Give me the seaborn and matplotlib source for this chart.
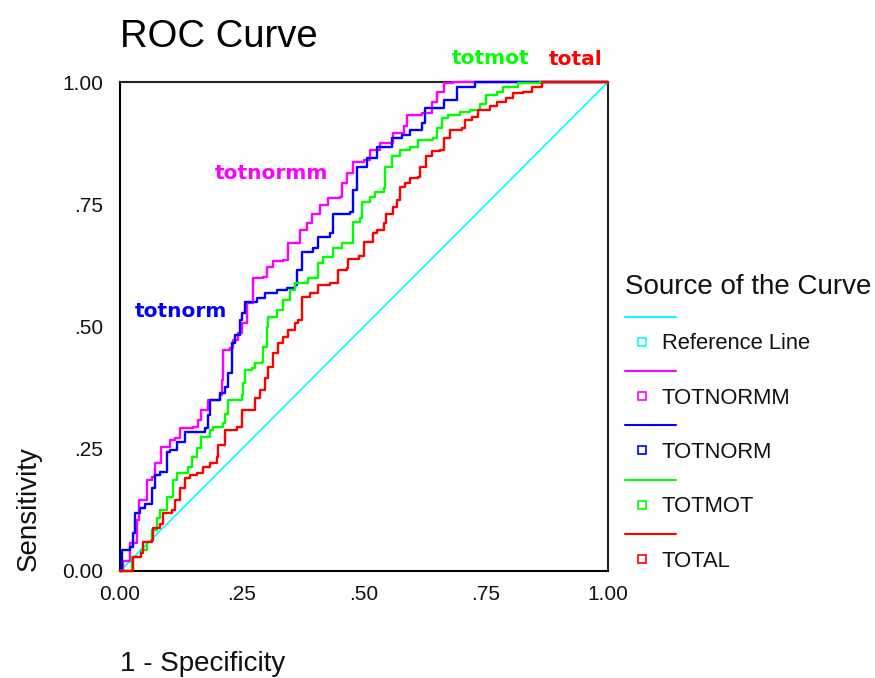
import numpy as np
import pandas as pd
import matplotlib
matplotlib.use("Agg")
import matplotlib.pyplot as plt
import seaborn as sns
from matplotlib.legend_handler import HandlerBase
from matplotlib.lines import Line2D
from matplotlib.patches import Rectangle

# ---------------- data ----------------
series_names = ["TOTNORMM", "TOTNORM", "TOTMOT", "TOTAL"]
legend_labels = ["Reference Line", "TOTNORMM", "TOTNORM", "TOTMOT", "TOTAL"]
curve_labels = ["totnormm", "totnorm", "totmot", "total"]

ref_x = [0.0, 1.0]
ref_y = [0.0, 1.0]

totnormm_x = [0.0, 0.007, 0.020, 0.034, 0.038, 0.055, 0.065, 0.072, 0.085, 0.102, 0.113, 0.123,
              0.150, 0.160, 0.167, 0.181, 0.205, 0.208, 0.212, 0.225, 0.232, 0.242, 0.249, 0.260,
              0.273, 0.294, 0.301, 0.314, 0.335, 0.345, 0.365, 0.369, 0.383, 0.393, 0.410, 0.427,
              0.451, 0.454, 0.465, 0.478, 0.499, 0.512, 0.533, 0.560, 0.581, 0.588, 0.618, 0.639,
              0.649, 0.663, 0.683, 1.0]
totnormm_y = [0.0, 0.020, 0.057, 0.104, 0.145, 0.186, 0.193, 0.221, 0.254, 0.268, 0.272, 0.292,
              0.295, 0.309, 0.329, 0.350, 0.360, 0.391, 0.452, 0.456, 0.472, 0.486, 0.507, 0.548,
              0.599, 0.602, 0.622, 0.633, 0.636, 0.670, 0.670, 0.697, 0.711, 0.731, 0.748, 0.762,
              0.765, 0.793, 0.813, 0.837, 0.840, 0.861, 0.875, 0.895, 0.909, 0.933, 0.936, 0.960,
              0.980, 0.997, 1.0, 1.0]

totnorm_x = [0.0, 0.004, 0.020, 0.027, 0.031, 0.041, 0.051, 0.065, 0.072, 0.082, 0.096, 0.102,
             0.116, 0.133, 0.174, 0.181, 0.184, 0.205, 0.215, 0.222, 0.229, 0.236, 0.246, 0.246,
             0.249, 0.256, 0.280, 0.297, 0.321, 0.342, 0.359, 0.362, 0.372, 0.396, 0.406, 0.430,
             0.437, 0.471, 0.478, 0.485, 0.506, 0.526, 0.557, 0.577, 0.594, 0.618, 0.625, 0.663,
             0.690, 0.727, 1.0]
totnorm_y = [0.0, 0.043, 0.050, 0.077, 0.118, 0.128, 0.138, 0.169, 0.196, 0.203, 0.244, 0.247,
             0.264, 0.285, 0.292, 0.319, 0.350, 0.364, 0.377, 0.404, 0.466, 0.483, 0.486, 0.513,
             0.527, 0.551, 0.558, 0.568, 0.575, 0.578, 0.585, 0.616, 0.653, 0.660, 0.684, 0.691,
             0.731, 0.735, 0.779, 0.827, 0.844, 0.868, 0.885, 0.892, 0.902, 0.916, 0.946, 0.963,
             0.990, 1.0, 1.0]

totmot_x = [0.0, 0.017, 0.024, 0.044, 0.055, 0.065, 0.075, 0.082, 0.096, 0.109, 0.116, 0.140,
            0.147, 0.157, 0.167, 0.184, 0.191, 0.212, 0.215, 0.222, 0.249, 0.253, 0.256, 0.270,
            0.277, 0.290, 0.294, 0.301, 0.304, 0.321, 0.335, 0.348, 0.359, 0.386, 0.406, 0.417,
            0.437, 0.454, 0.475, 0.478, 0.492, 0.495, 0.512, 0.523, 0.540, 0.543, 0.557, 0.574,
            0.594, 0.611, 0.642, 0.649, 0.659, 0.673, 0.697, 0.717, 0.738, 0.751, 0.772, 0.785,
            0.816, 0.861, 1.0]
totmot_y = [0.0, 0.0, 0.029, 0.043, 0.060, 0.084, 0.108, 0.125, 0.152, 0.186, 0.200, 0.213,
            0.234, 0.251, 0.275, 0.288, 0.295, 0.302, 0.322, 0.350, 0.360, 0.384, 0.411, 0.415,
            0.425, 0.428, 0.459, 0.500, 0.520, 0.534, 0.554, 0.575, 0.588, 0.599, 0.629, 0.643,
            0.660, 0.670, 0.670, 0.714, 0.721, 0.755, 0.765, 0.776, 0.783, 0.827, 0.848, 0.861,
            0.868, 0.881, 0.885, 0.906, 0.926, 0.933, 0.939, 0.943, 0.956, 0.973, 0.980, 0.990,
            0.997, 1.0, 1.0]

total_x = [0.0, 0.024, 0.027, 0.044, 0.048, 0.065, 0.068, 0.082, 0.089, 0.106, 0.113, 0.123,
           0.133, 0.143, 0.157, 0.171, 0.184, 0.198, 0.201, 0.215, 0.239, 0.249, 0.273, 0.277,
           0.287, 0.297, 0.304, 0.314, 0.324, 0.335, 0.345, 0.359, 0.365, 0.372, 0.389, 0.406,
           0.430, 0.447, 0.465, 0.468, 0.490, 0.499, 0.519, 0.526, 0.540, 0.546, 0.560, 0.567,
           0.574, 0.584, 0.594, 0.611, 0.615, 0.628, 0.639, 0.656, 0.663, 0.676, 0.700, 0.707,
           0.721, 0.734, 0.758, 0.772, 0.792, 0.806, 0.826, 0.844, 0.864, 1.0]
total_y = [0.0, 0.0, 0.029, 0.036, 0.060, 0.063, 0.087, 0.097, 0.118, 0.125, 0.145, 0.169,
           0.190, 0.196, 0.200, 0.213, 0.220, 0.234, 0.258, 0.288, 0.295, 0.329, 0.329, 0.353,
           0.370, 0.394, 0.418, 0.445, 0.466, 0.479, 0.493, 0.507, 0.513, 0.561, 0.568, 0.585,
           0.588, 0.616, 0.619, 0.639, 0.645, 0.672, 0.691, 0.697, 0.711, 0.731, 0.745, 0.759,
           0.786, 0.793, 0.803, 0.806, 0.827, 0.848, 0.858, 0.861, 0.885, 0.902, 0.906, 0.922,
           0.929, 0.943, 0.950, 0.960, 0.967, 0.977, 0.980, 0.990, 1.0, 1.0]

x_ticks = [0.0, 0.25, 0.5, 0.75, 1.0]
tick_labels = ["0.00", ".25", ".50", ".75", "1.00"]

colors = {"Reference Line": "#00FFFF", "TOTNORMM": "#FF00FF", "TOTNORM": "#0000FF",
          "TOTMOT": "#00FF00", "TOTAL": "#FF0000"}

# positions of the in-plot curve labels (data coords)
curve_label_pos = {"totnormm": (0.311, 0.812), "totnorm": (0.125, 0.530),
                   "totmot": (0.760, 1.049), "total": (0.934, 1.047)}

# ---------------- build dataframe ----------------
xs = [totnormm_x, totnorm_x, totmot_x, total_x]
ys = [totnormm_y, totnorm_y, totmot_y, total_y]
frames = []
for name, x, y in zip(series_names, xs, ys):
    frames.append(pd.DataFrame({"fpr": x, "tpr": y, "curve": name}))
df = pd.concat(frames, ignore_index=True)
ref_df = pd.DataFrame({"fpr": ref_x, "tpr": ref_y, "curve": "Reference Line"})

# ---------------- style ----------------
sns.set_theme(style="white")
plt.rcParams["font.family"] = ["Liberation Sans", "DejaVu Sans"]

PX = 72.0 / 100.0  # points per pixel

fig = plt.figure(figsize=(8.75, 6.78), dpi=100)
ax = fig.add_axes([120 / 875, (678 - 571) / 678, 488 / 875, 489 / 678])

sns.lineplot(data=ref_df, x="fpr", y="tpr", color=colors["Reference Line"], linewidth=1.2,
             estimator=None, sort=False, legend=False, ax=ax, zorder=3)
sns.lineplot(data=df, x="fpr", y="tpr", hue="curve", hue_order=series_names,
             palette=[colors[n] for n in series_names], units="curve", estimator=None,
             sort=False, legend=False, linewidth=1.7, drawstyle="steps-post", ax=ax,
             zorder=3, clip_on=False)

ax.set_xlim(0, 1)
ax.set_ylim(0, 1)
ax.set_xticks(x_ticks)
ax.set_xticklabels(tick_labels)
ax.set_yticks(x_ticks)
ax.set_yticklabels(tick_labels)

for sp in ax.spines.values():
    sp.set_color("black")
    sp.set_linewidth(1.5)
    sp.set_visible(True)
ax.spines["top"].set_color("#222222")
ax.spines["right"].set_color("#222222")

ax.tick_params(axis="both", which="major", direction="out", length=5.5, width=3.2,
               color="black", labelsize=15, labelcolor="#111111")
ax.tick_params(axis="y", pad=6.5)
ax.tick_params(axis="x", pad=4.5)

ax.set_xlabel("1 - Specificity", fontsize=20, loc="left", color="#111111")
ax.xaxis.set_label_coords(0.0, -0.163)
ax.set_ylabel("Sensitivity", fontsize=20, loc="bottom", color="#111111")
ax.yaxis.set_label_coords(-0.16, 0.0)

ax.set_title("ROC Curve", loc="left", fontsize=27.5, y=1.0716, pad=0, color="black")

for lab, name in zip(curve_labels, series_names):
    x, y = curve_label_pos[lab]
    ax.text(x, y, lab, color=colors[name], fontsize=14.5, fontweight="bold",
            family="DejaVu Sans", ha="center", va="center", clip_on=False)


# ---------------- SPSS-like legend ----------------
class SPSSHandler(HandlerBase):
    def create_artists(self, legend, orig_handle, xdescent, ydescent, width, height,
                       fontsize, trans):
        c = orig_handle.get_color()
        cy = (height - ydescent) / 2.0
        x0 = -xdescent
        line = Line2D([x0, x0 + 51 * PX], [cy + 25 * PX, cy + 25 * PX], color=c,
                      linewidth=1.5, transform=trans)
        s = 8 * PX
        sq = Rectangle((x0 + 16.5 * PX - s / 2, cy - s / 2), s, s, facecolor="none",
                       edgecolor=c, linewidth=1.2, transform=trans)
        return [line, sq]


handles = [Line2D([], [], color=colors[n]) for n in legend_labels]
leg = ax.legend(handles, legend_labels, title="Source of the Curve",
                handler_map={Line2D: SPSSHandler()},
                loc="upper left", bbox_to_anchor=(625 / 875, 1 - 274 / 678),
                bbox_transform=fig.transFigure, frameon=False, fontsize=15.8,
                title_fontsize=20, alignment="left", borderpad=0, borderaxespad=0,
                handlelength=1.35, handletextpad=0.33, labelspacing=1.52)
for t in leg.get_texts():
    t.set_color("#111111")
leg.get_title().set_color("#111111")

fig.savefig("out.png", dpi=100)
